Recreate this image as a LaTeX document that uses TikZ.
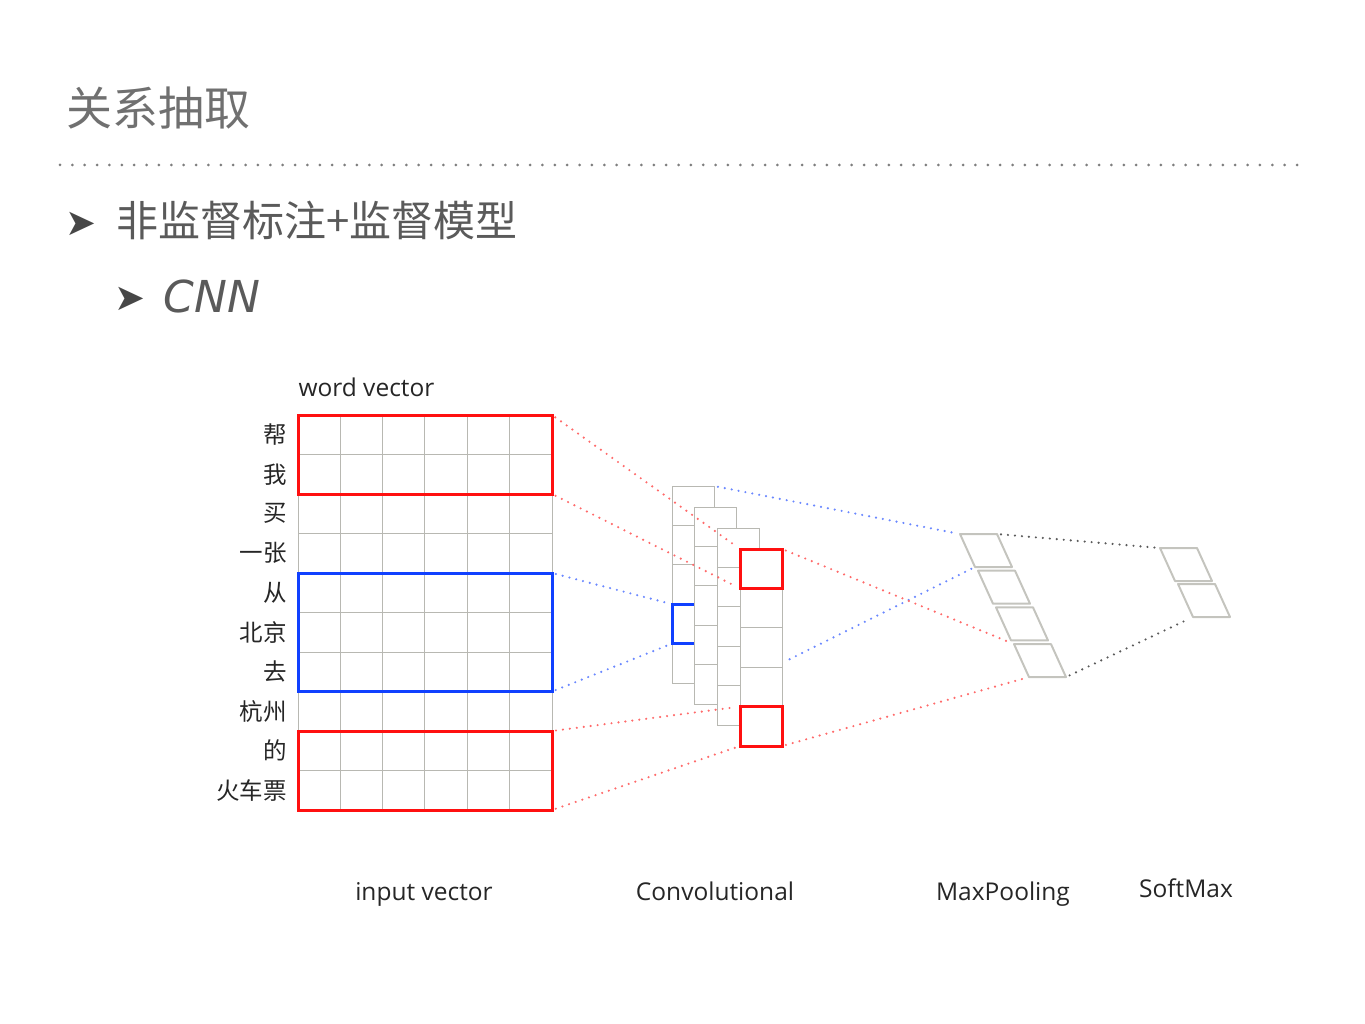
\documentclass[tikz,border=0pt]{standalone}
\usepackage{fontspec}
\setmainfont{Open Sans}
\newfontfamily\cjk{Noto Sans CJK SC}
\newfontfamily\symb{DejaVu Sans}
\usetikzlibrary{positioning, fit}
\definecolor{gridgray}{HTML}{B8B8B2}
\definecolor{paragray}{HTML}{C4C4BE}
\definecolor{boxred}{HTML}{FF1010}
\definecolor{boxblue}{HTML}{1040FF}
\definecolor{dotred}{HTML}{FF6A6A}
\definecolor{dotblue}{HTML}{6A88FF}
\definecolor{dotgray}{HTML}{5A5A5A}
\definecolor{titlegray}{HTML}{707070}
\definecolor{textgray}{HTML}{5A5A5A}

\begin{document}
\begin{tikzpicture}[x=1pt,y=-1pt,line width=1pt]
\tikzset{row/.style = {rectangle, draw=gridgray, minimum width=254pt, minimum height=39.5pt, inner sep=0pt, outer sep=0pt},
  rowlabel/.style = {font=\cjk\fontsize{23.5}{23.5}\selectfont, text=black!85, inner sep=0pt, anchor=east},
  convcell/.style = {rectangle, draw=gridgray, fill=white, minimum width=42pt, minimum height=39.4pt, inner sep=0pt, outer sep=0pt},
  redbox/.style = {rectangle, draw=boxred, line width=3pt, inner sep=0pt, outer sep=0pt},
  bluebox/.style = {rectangle, draw=boxblue, line width=3pt, inner sep=0pt, outer sep=0pt},
  para/.style = {draw=paragray, line width=2pt, line join=round},
  dots/.style = {line width=2.4pt, line cap=round, dash pattern=on 0pt off 7pt, shorten >=4pt, shorten <=4pt},
  caption/.style = {font=\fontsize{24.5}{24.5}\selectfont, text=black!85, inner sep=0pt},
  bullet/.style = {font=\symb\fontsize{37}{37}\selectfont, text=black!72, inner sep=0pt}}

\useasboundingbox (0,0) rectangle (1365,1024);

%heading
\node[anchor=west, font=\cjk\fontsize{46}{46}\selectfont, text=titlegray, inner sep=0pt] (title) at (66,108) {关系抽取};
\coordinate (rulel) at (60,165);
\coordinate (ruler) at (1297,165);
\draw[titlegray!90, line width=3pt, line cap=round, dash pattern=on 0pt off 12.37pt] (rulel) -- (ruler);

\node[bullet] (b1) at (81,224) {➤};
\node[anchor=west, font=\cjk\fontsize{42}{42}\selectfont, text=textgray, inner sep=0pt] (b1text) at (116,220) {非监督标注+监督模型};
\node[bullet] (b2) at (130,299) {➤};
\node[anchor=west, font=\symb\itshape\fontsize{44}{44}\selectfont, text=textgray, inner sep=0pt] (b2text) at (163,296) {CNN};

%input vector
\foreach \w [count=\i] in {帮,我,买,一张,从,北京,去,杭州,的,火车票} {
  \node[row] (row\i) at (425,{415+39.5*(\i-0.5)}) {};
  \node[rowlabel] at ([xshift=-11pt]row\i.west) {\w};
}
\foreach \j in {1,...,5} \draw[gridgray] ({298+42.33*\j},415) -- ({298+42.33*\j},810);
\node[caption, anchor=base west] (wv) at (298,396) {word vector};

\node[redbox, fit=(row1)(row2)] (red1) {};
\node[bluebox, fit=(row5)(row7)] (blue) {};
\node[redbox, fit=(row9)(row10)] (red2) {};

%convolutional
\foreach \r in {1,...,5} \node[convcell] (L1-\r) at (693,{486+39.4*(\r-0.5)}) {};
\node[bluebox, fit=(L1-4)] (cblue) {};
\foreach \l in {2,3,4}
  \foreach \r in {1,...,5}
    \node[convcell] (L\l-\r) at ({693+22.7*(\l-1)},{486+21*(\l-1)+39.4*(\r-0.5)}) {};
\node[redbox, fit=(L4-1)] (cred1) {};
\node[redbox, fit=(L4-5)] (cred2) {};
\coordinate (convout) at (786,661);

%maxpooling and softmax
\foreach \i in {1,...,4}
  \draw[para] ({960+18*(\i-1)},{534+36.7*(\i-1)}) coordinate (mp\i) -- ++(37,0) coordinate (mp\i-tr)
    -- ++(15,33) coordinate (mp\i-br) -- ++(-37,0) coordinate (mp\i-bl) -- cycle;
\foreach \i in {1,2}
  \draw[para] ({1160+18*(\i-1)},{548+36*(\i-1)}) coordinate (sm\i) -- ++(37,0) coordinate (sm\i-tr)
    -- ++(15,33) coordinate (sm\i-br) -- ++(-37,0) coordinate (sm\i-bl) -- cycle;

%connections
\draw[dots, dotred] (red1.north east) -- (cred1.north west);
\draw[dots, dotred] (red1.south east) -- (cred1.south west);
\draw[dots, dotred] (red2.north east) -- (cred2.north west);
\draw[dots, dotred] (red2.south east) -- (cred2.south west);
\draw[dots, dotblue] (blue.north east) -- (cblue.north west);
\draw[dots, dotblue] (blue.south east) -- (cblue.south west);

\draw[dots, dotblue] (L1-1.north east) -- (mp1);
\draw[dots, dotblue] (convout) -- (mp1-bl);
\draw[dots, dotred] (cred1.north east) -- (mp4);
\draw[dots, dotred] (cred2.south east) -- (mp4-bl);

\draw[dots, dotgray] (mp1-tr) -- (sm1);
\draw[dots, dotgray] (mp4-br) -- (sm2-bl);

%captions
\node[caption, anchor=base] (cin) at (424,900) {input vector};
\node[caption, anchor=base] (cconv) at (715,900) {Convolutional};
\node[caption, anchor=base] (cmax) at (1003,900) {MaxPooling};
\node[caption, anchor=base] (csoft) at (1186,897) {SoftMax};

\end{tikzpicture}
\end{document}
